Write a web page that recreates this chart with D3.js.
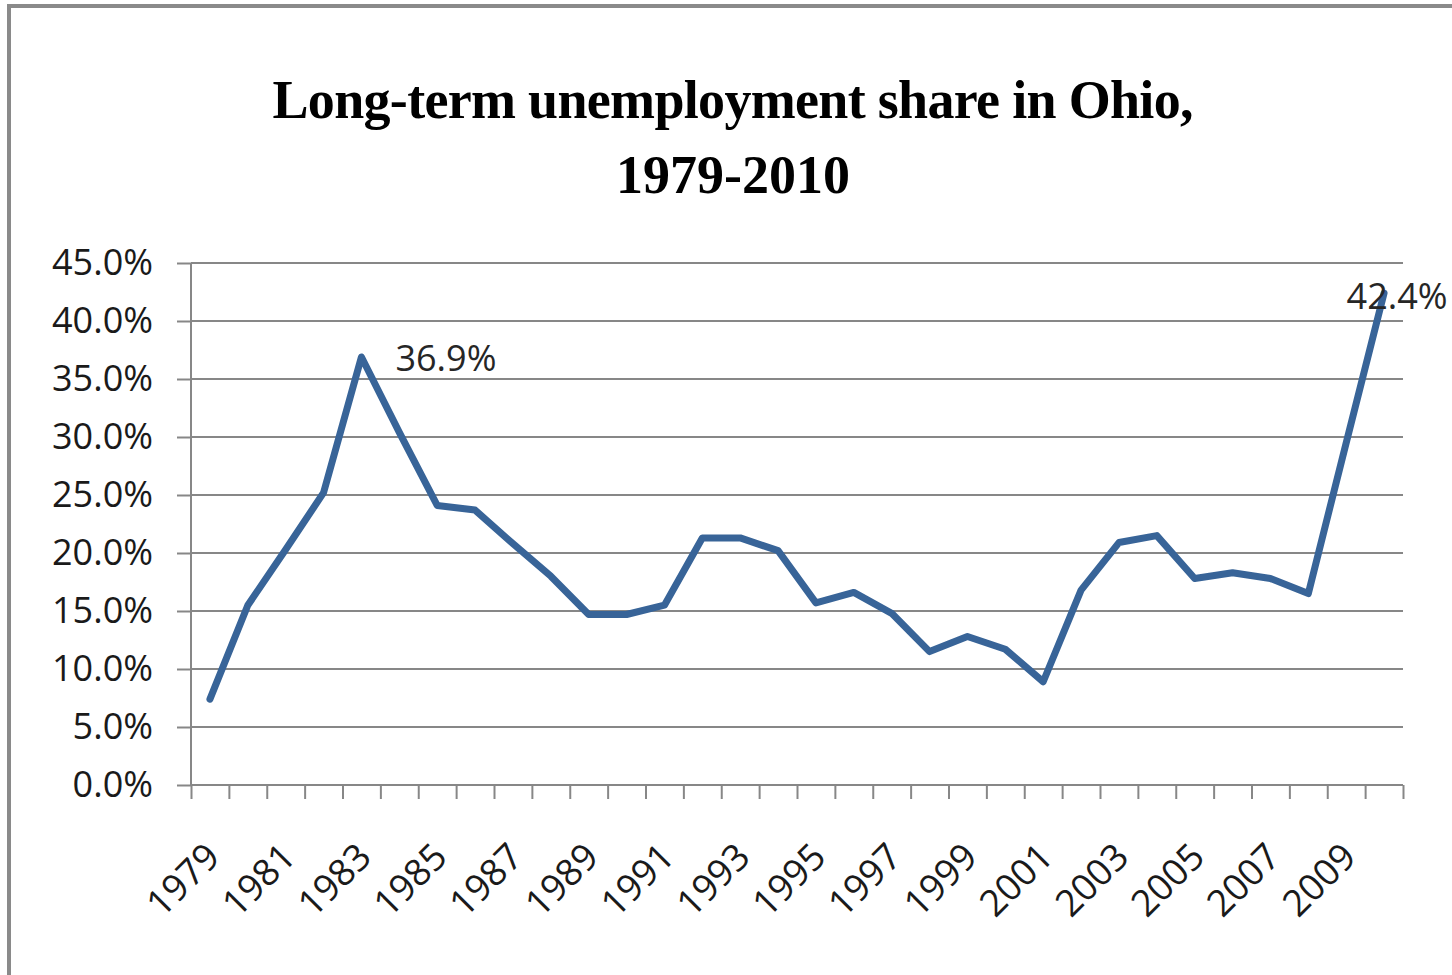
<!DOCTYPE html>
<html>
<head>
<meta charset="utf-8">
<script src="https://cdn.jsdelivr.net/npm/d3@7"></script>
<style>
  html, body { margin: 0; padding: 0; background: #fff; }
  svg { display: block; }
  .axis path, .axis line { stroke: #878787; stroke-width: 2; }
  .axis text { font-family: "Open Sans", sans-serif; font-size: 36px; fill: #1a1a1a; }
</style>
</head>
<body>
<svg id="chart" width="1452" height="975"></svg>
<script>
// long-term unemployment share, Ohio (percent)
var years = d3.range(1979, 2011);
var shares = [7.4, 15.5, 20.3, 25.2, 36.9, 30.4, 24.1, 23.7, 20.8, 18.0,
              14.7, 14.7, 15.5, 21.3, 21.3, 20.2, 15.7, 16.6, 14.8, 11.5,
              12.8, 11.7, 8.9, 16.8, 20.9, 21.5, 17.8, 18.3, 17.8, 16.5,
              29.5, 42.4];
var yTicks = [0, 5, 10, 15, 20, 25, 30, 35, 40, 45];
var labeledYears = years.filter(function(d){ return (d - 1979) % 2 === 0 && d < 2010; });
var callouts = [
  { year: 1983, text: '36.9%', dx: 34, dy: 1, anchor: 'start' },
  { year: 2010, text: '42.4%', dx: 13, dy: 3, anchor: 'middle' }
];
var titleLines = ['Long-term unemployment share in Ohio,', '1979-2010'];

var svg = d3.select('#chart');

var plotLeft = 191, plotRight = 1403, plotTop = 263, plotBottom = 785;

// outer frame, runs off the right/bottom edge like the screenshot
svg.append('rect')
  .attr('x', 9).attr('y', 6)
  .attr('width', 1500).attr('height', 1100)
  .attr('fill', '#fff')
  .attr('stroke', '#8a8a8a')
  .attr('stroke-width', 4);

var x = d3.scaleBand()
  .domain(years)
  .range([plotLeft, plotRight]);

var xEdge = d3.scaleLinear()
  .domain([0, years.length])
  .range([plotLeft, plotRight]);

var y = d3.scaleLinear()
  .domain([0, 45])
  .range([plotBottom, plotTop]);

function cx(yr){ return x(yr) + x.bandwidth() / 2; }

// horizontal gridlines
svg.append('g')
  .selectAll('line')
  .data(yTicks.filter(function(d){ return d > 0; }))
  .enter().append('line')
  .attr('x1', plotLeft).attr('x2', plotRight)
  .attr('y1', function(d){ return y(d); })
  .attr('y2', function(d){ return y(d); })
  .attr('stroke', '#878787')
  .attr('stroke-width', 2);

// y axis
var yAxis = svg.append('g')
  .attr('class', 'axis')
  .attr('transform', 'translate(' + plotLeft + ',0)')
  .call(d3.axisLeft(y)
    .tickValues(yTicks)
    .tickSize(14)
    .tickPadding(24)
    .tickFormat(function(d){ return d.toFixed(1) + '%'; }));
yAxis.select('.domain').attr('d', 'M0,' + plotTop + 'V' + plotBottom);

// x axis, ticks sit between categories
var xAxis = svg.append('g')
  .attr('class', 'axis')
  .attr('transform', 'translate(0,' + plotBottom + ')')
  .call(d3.axisBottom(xEdge)
    .tickValues(d3.range(years.length + 1))
    .tickSize(14)
    .tickFormat(''));
xAxis.select('.domain').attr('d', 'M' + plotLeft + ',0H' + plotRight);

// year labels, every other one, rotated
svg.append('g')
  .selectAll('text')
  .data(labeledYears)
  .enter().append('text')
  .attr('transform', function(d){
    return 'translate(' + (cx(d) + 12) + ',' + (plotBottom + 74) + ') rotate(-45)';
  })
  .attr('text-anchor', 'end')
  .style('font-family', '"Open Sans", sans-serif')
  .style('font-size', '37px')
  .style('fill', '#1a1a1a')
  .text(function(d){ return d; });

// the line
var line = d3.line()
  .x(function(d, i){ return cx(years[i]); })
  .y(function(d){ return y(d); });

svg.append('path')
  .datum(shares)
  .attr('d', line)
  .attr('fill', 'none')
  .attr('stroke', '#386498')
  .attr('stroke-width', 7)
  .attr('stroke-linejoin', 'round')
  .attr('stroke-linecap', 'round');

// data labels
svg.append('g')
  .selectAll('text')
  .data(callouts)
  .enter().append('text')
  .attr('x', function(d){ return cx(d.year) + d.dx; })
  .attr('y', function(d){ return y(shares[years.indexOf(d.year)]) + d.dy; })
  .attr('dy', '0.35em')
  .attr('text-anchor', function(d){ return d.anchor; })
  .style('font-family', '"Open Sans", sans-serif')
  .style('font-size', '36px')
  .style('fill', '#262626')
  .text(function(d){ return d.text; });

// title
svg.append('g')
  .selectAll('text')
  .data(titleLines)
  .enter().append('text')
  .attr('x', 733)
  .attr('y', function(d, i){ return 118 + i * 75; })
  .attr('text-anchor', 'middle')
  .attr('textLength', function(d, i){ return i === 0 ? 921 : null; })
  .attr('lengthAdjust', 'spacing')
  .style('font-family', '"Liberation Serif", "Times New Roman", serif')
  .style('font-weight', 'bold')
  .style('font-size', '54px')
  .style('fill', '#000')
  .text(function(d){ return d; });
</script>
</body>
</html>
